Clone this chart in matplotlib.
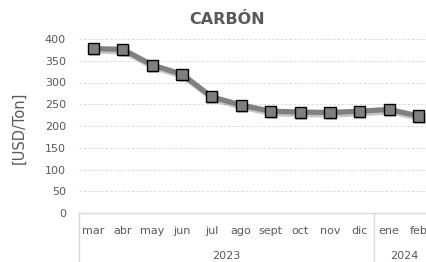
#!/usr/bin/env python3
import matplotlib
matplotlib.use("Agg")
import matplotlib.pyplot as plt
import matplotlib.patheffects as pe
import matplotlib.transforms as mtransforms

# data
months = ["mar", "abr", "may", "jun", "jul", "ago", "sept", "oct", "nov", "dic", "ene", "feb"]
prices = [378, 376, 340, 319, 267, 248, 234, 232, 231, 234, 238, 223]
years = ["2023", "2024"]
year_spans = [(0, 9), (10, 11)]   # first/last month index per year
yticks = [0, 50, 100, 150, 200, 250, 300, 350, 400]

TXT = "#595959"
GRID = "#d9d9d9"
W, H = 426, 262

fig = plt.figure(figsize=(W / 100, H / 100), dpi=100)
# axes runs past the right edge, like the cropped original
ax = fig.add_axes([78.5 / W, (H - 213) / H, 355 / W, 174 / H])

xs = list(range(len(months)))
line, = ax.plot(xs, prices, color="#808080", lw=3.8, solid_capstyle="round", zorder=3)
line.set_path_effects([pe.SimpleLineShadow(offset=(1.2, -1.8), shadow_color="k", alpha=0.22),
                       pe.Normal()])
ax.plot(xs, prices, ls="none", marker="s", ms=8, mfc="#7f7f7f", mec="black", mew=1.0, zorder=4,
        path_effects=[pe.SimplePatchShadow(offset=(1, -1.5), alpha=0.25), pe.Normal()])

ax.set_xlim(-0.5, len(months) - 0.5)
ax.set_ylim(0, 400)
ax.set_yticks(yticks)
ax.set_yticklabels([str(v) for v in yticks])
ax.set_xticks(xs)
ax.set_xticklabels(months)
ax.tick_params(axis="y", length=0, pad=9, labelsize=8, labelcolor=TXT)
ax.tick_params(axis="x", length=0, pad=9, labelsize=8, labelcolor=TXT)

for v in yticks[1:]:
    ax.axhline(v, color=GRID, lw=0.7, ls=(0, (2.5, 2)), zorder=1)

for s in ["top", "right", "left"]:
    ax.spines[s].set_visible(False)
ax.spines["bottom"].set_color(GRID)
ax.spines["bottom"].set_linewidth(1.0)

# category group boxes below the axis
trans = mtransforms.blended_transform_factory(ax.transData, ax.transAxes)
bot = -49 / 174
for x in [-0.5, 9.5]:
    ax.plot([x, x], [0, bot], color=GRID, lw=1.0, transform=trans, clip_on=False)

ytr = mtransforms.blended_transform_factory(ax.transData, fig.transFigure)
for yr, (a, b) in zip(years, year_spans):
    ax.text((a + b) / 2, (H - 256) / H, yr, transform=ytr, ha="center", va="center",
            fontsize=8, color=TXT)

fig.text(227 / W, 1 - 20 / H, "CARBÓN", ha="center", va="center", fontsize=11.5,
         fontweight="bold", color=TXT)
fig.text(19.5 / W, 1 - 128 / H, "[USD/Ton]", ha="center", va="center", rotation=90,
         fontsize=10.5, color=TXT)

fig.savefig("out.png", dpi=100)
